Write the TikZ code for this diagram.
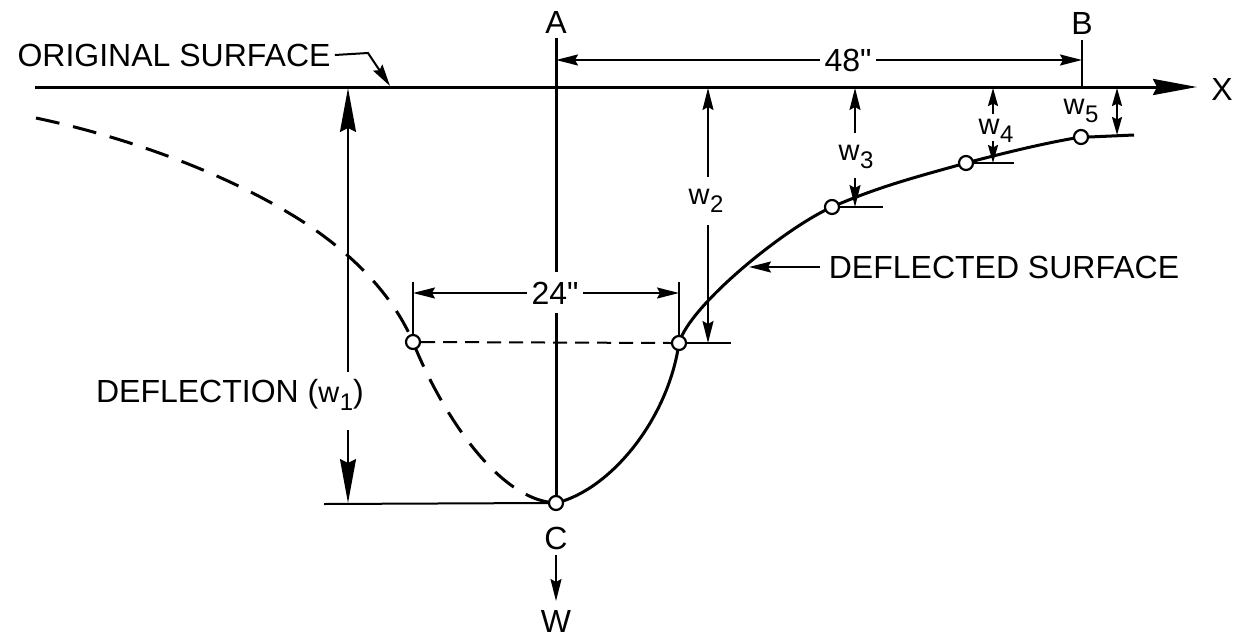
\documentclass[tikz,border=0pt]{standalone}
\usepackage{fontspec}
\setmainfont{Liberation Sans}[Ligatures=TeXOff]
\usetikzlibrary{arrows.meta}
\newcommand{\wsub}[1]{{\fontsize{14.5}{16}\selectfont w}\kern0.3pt\raisebox{-0.5ex}{\fontsize{12}{13}\selectfont #1}}
\begin{document}
\begin{tikzpicture}[x=0.5pt,y=-0.5pt,
  lbl/.style={font=\fontsize{16}{19}\selectfont, inner sep=2pt},
  thickline/.style={line width=1.5pt},
  dimline/.style={line width=1pt},
  pt/.style={circle, draw, fill=white, line width=1.1pt, minimum size=7pt, inner sep=0pt},
  >={Stealth[length=11pt,width=5.5pt,inset=1.5pt]},
  longtip/.tip={Stealth[length=22pt,width=8pt,inset=2pt]},
  smalltip/.tip={Stealth[length=9pt,width=5pt,inset=1.2pt]}
]
\useasboundingbox (0,0) rectangle (1235,637);
\fill[white] (0,0) rectangle (1235,637);

% coordinates
\coordinate (O) at (35,87);
\coordinate (Xend) at (1197,87);
\coordinate (Atop) at (556,38);
\coordinate (Agap1) at (556,272);
\coordinate (Agap2) at (556,313);
\coordinate (Btop) at (1082,40);
\coordinate (Bbot) at (1082,87);
\coordinate (A48) at (556,60);
\coordinate (B48) at (1082,60);
\coordinate (Lbend) at (368,53);
\coordinate (Ltip) at (390,86);
\coordinate (Dstart) at (36,118);
\coordinate (Dmid) at (308,225);

% axis
\draw[thickline,-longtip] (O) -- (Xend);
\node[lbl] (X) at (1222,89) {X};

% labels A, B
\node[lbl] (A) at (556,22) {A};
\node[lbl] (B) at (1082,23) {B};
\draw[dimline] (Btop) -- (Bbot);

% 48"
\node[lbl] (d48) at (848,60) {48"};
\draw[dimline,->] (d48.west) -- (A48);
\draw[dimline,->] (d48.east) -- (B48);

% original surface
\node[lbl] (os) at (174,55) {ORIGINAL SURFACE};
\draw[dimline,->] (os.east) -- (Lbend) -- (Ltip);

% 24"
\node[lbl] (d24) at (555,293) {24"};
\coordinate (L24) at (413,293);
\coordinate (R24) at (679,293);
\coordinate (L24t) at (413,282);
\coordinate (R24t) at (679,282);

% point coordinates
\coordinate (cC) at (556,503);
\coordinate (c1) at (413,342);
\coordinate (c2) at (679,343);
\coordinate (c3) at (832,207);
\coordinate (c4) at (966,163);
\coordinate (c5) at (1081,137);

% dashed curve
\draw[thickline, dash pattern=on 12pt off 7pt]
  (Dstart) .. controls (140,140) and (240,180) .. (Dmid)
  .. controls (360,260) and (395,300) .. (c1)
  .. controls (438,405) and (495,500) .. (cC);

% solid curve
\draw[thickline]
  (cC) .. controls (610,490) and (668,420) .. (c2)
  .. controls (690,305) and (785,228) .. (c3)
  .. controls (880,186) and (920,176) .. (c4)
  .. controls (1008,152) and (1045,143) .. (c5);

% points
\node[pt] (C) at (cC) {};
\node[pt] (P1) at (c1) {};
\node[pt] (P2) at (c2) {};
\node[pt] (P3) at (c3) {};
\node[pt] (P4) at (c4) {};
\node[pt] (P5) at (c5) {};

% A line
\draw[thickline] (Atop) -- (Agap1);
\draw[thickline] (Agap2) -- (C.north);

% 24" dimension
\draw[dimline] (L24t) -- (P1.north);
\draw[dimline] (R24t) -- (P2.north);
\draw[dimline,->] (d24.west) -- (L24);
\draw[dimline,->] (d24.east) -- (R24);
\draw[dimline, dash pattern=on 7pt off 4pt] (P1.east) -- (P2.west);

% deflection w1
\coordinate (w1top) at (348,88);
\coordinate (w1a) at (348,372);
\coordinate (w1b) at (348,430);
\coordinate (w1bot) at (348,503);
\coordinate (Bl) at (324,504);
\draw[dimline,longtip-] (w1top) -- (w1a);
\draw[dimline,-longtip] (w1b) -- (w1bot);
\draw[dimline] (Bl) -- (C.west);
\node[lbl] (defl) at (230,395) {DEFLECTION (\wsub{1})};

% C and W
\node[lbl] (Clab) at (556,538) {C};
\node[lbl] (W) at (556,621) {W};
\coordinate (Wa) at (556,555);
\coordinate (Wb) at (556,601);
\draw[dimline,->] (Wa) -- (Wb);

% ticks
\coordinate (T2) at (731,343);
\coordinate (T3) at (883,207);
\coordinate (T4) at (1014,163);
\coordinate (T5) at (1134,135);
\draw[dimline] (P2.east) -- (T2);
\draw[dimline] (P3.east) -- (T3);
\draw[dimline] (P4.east) -- (T4);
\draw[thickline] (P5.east) -- (T5);

% w2
\node[lbl] (w2) at (706,201) {\wsub{2}};
\coordinate (w2t) at (708,88);
\coordinate (w2a) at (708,177);
\coordinate (w2b) at (708,225);
\coordinate (w2c) at (708,343);
\draw[dimline,<-] (w2t) -- (w2a);
\draw[dimline,->] (w2b) -- (w2c);

% w3
\node[lbl] (w3) at (856,157) {\wsub{3}};
\coordinate (w3t) at (855,88);
\coordinate (w3a) at (855,133);
\coordinate (w3b) at (855,178);
\coordinate (w3c) at (855,207);
\draw[dimline,<-] (w3t) -- (w3a);
\draw[dimline,->] (w3b) -- (w3c);

% w4
\node[lbl] (w4) at (996,131) {\wsub{4}};
\coordinate (w4t) at (993,88);
\coordinate (w4a) at (993,114);
\coordinate (w4b) at (993,141);
\coordinate (w4c) at (993,163);
\draw[dimline,smalltip-] (w4t) -- (w4a);
\draw[dimline,-smalltip] (w4b) -- (w4c);

% w5
\node[lbl] (w5) at (1081,111) {\wsub{5}};
\coordinate (w5t) at (1117,88);
\coordinate (w5b) at (1117,135);
\draw[dimline,smalltip-smalltip] (w5t) -- (w5b);

% deflected surface
\node[lbl, inner sep=4pt] (ds) at (1004,267) {DEFLECTED SURFACE};
\coordinate (dstip) at (749,267);
\draw[dimline,->] (ds.west) -- (dstip);
\end{tikzpicture}
\end{document}
